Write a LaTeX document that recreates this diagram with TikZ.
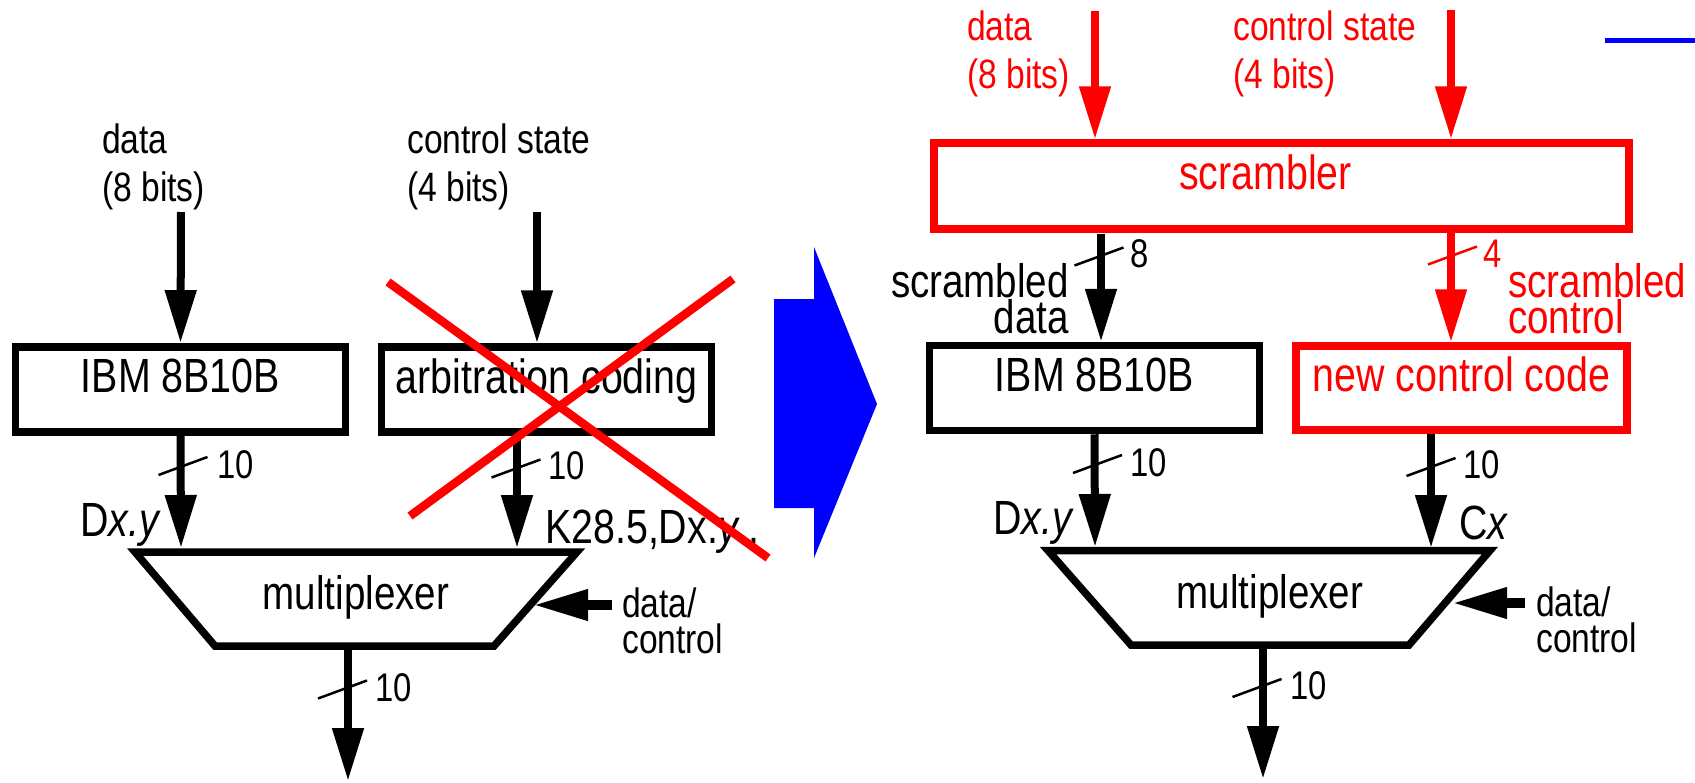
\documentclass[tikz,border=0pt]{standalone}
\usepackage{fontspec}
\setmainfont{Liberation Sans}[FakeStretch=0.82]
\usetikzlibrary{arrows.meta}

\begin{document}
\begin{tikzpicture}[x=1pt, y=-1pt,
    box/.style={draw, line width=7.5pt, minimum width=330pt, minimum height=85pt, inner sep=0pt,
      font=\fontsize{48}{56}\selectfont, text height=20pt, text depth=13pt},
    bus/.style={line width=8pt, -{Triangle[length=53pt, width=30pt]}},
    sel/.style={line width=10pt, -{Triangle[length=55pt, width=29pt]}},
    mux/.style={line width=7.5pt, line join=miter},
    slash/.style={line width=2.5pt},
    cross/.style={red, line width=8.5pt},
    inlbl/.style={font=\fontsize{41}{48}\selectfont, align=left, anchor=base west, inner sep=0pt},
    sclbl/.style={font=\fontsize{47}{36}\selectfont, inner sep=0pt},
    num/.style={font=\fontsize{40}{40}\selectfont, anchor=base west, inner sep=0pt},
    sig/.style={font=\fontsize{48}{48}\selectfont, anchor=base west, inner sep=0pt},
    ctl/.style={font=\fontsize{41}{36}\selectfont, align=left, anchor=base west, inner sep=0pt}]
\useasboundingbox (0,0) rectangle (1695,782);

\node[inlbl] (datL) at (102,201) {data\\(8 bits)};
\node[inlbl] (csL) at (407,201) {control state\\(4 bits)};
\node[box] (ibmL) at (180.5,389.3) {IBM 8B10B};
\node[box] (arbL) at (546.5,389.5) {arbitration coding};
\coordinate (muxL1) at (135,552); \coordinate (muxL2) at (577,552);
\coordinate (muxL3) at (494,646); \coordinate (muxL4) at (215,646);
\draw[mux] (muxL1) -- (muxL2) -- (muxL3) -- (muxL4) -- cycle;
\node[font=\fontsize{47}{47}\selectfont, anchor=base, inner sep=0pt] (mpxL) at (356,609) {multiplexer};
\coordinate (inDL) at (181,212); \coordinate (inCL) at (537,212);
\coordinate (muxLa) at (181,548); \coordinate (muxLb) at (517,548);
\coordinate (outL) at (348,781); \coordinate (selL) at (612,605); \coordinate (selLt) at (533,605);
\draw[bus] (inDL) -- (ibmL.north);
\draw[bus] (inCL) -- (inCL |- arbL.north);
\draw[bus] (ibmL.south) -- (muxLa);
\draw[bus] (muxLb |- arbL.south) -- (muxLb);
\draw[bus] (outL |- muxL4) -- (outL);
\draw[sel] (selL) -- (selLt);
\node[sig] (dxyL) at (80,536) {D\textit{x.y}};
\node[sig] (kL) at (545,543) {K28.5,Dx.\textit{y}..};
\node[ctl] (dcL) at (622,653) {data/\\control};

\node[inlbl, red] (datR) at (967,88) {data\\(8 bits)};
\node[inlbl, red] (csR) at (1233,88) {control state\\(4 bits)};
\node[box, red, minimum width=695pt, minimum height=86pt] (scr) at (1281.5,186) {scrambler\hspace*{32pt}};
\node[box] (ibmR) at (1094.5,388) {IBM 8B10B};
\node[box, red, minimum width=331pt, minimum height=84pt] (ncc) at (1461.5,388) {new control code};
\coordinate (muxR1) at (1048,550.5); \coordinate (muxR2) at (1490,550.5);
\coordinate (muxR3) at (1409,645); \coordinate (muxR4) at (1131,645);
\draw[mux] (muxR1) -- (muxR2) -- (muxR3) -- (muxR4) -- cycle;
\node[font=\fontsize{47}{47}\selectfont, anchor=base, inner sep=0pt] (mpxR) at (1270,608) {multiplexer};
\coordinate (inDR) at (1095,11); \coordinate (inCR) at (1451,10);
\coordinate (sdR) at (1101,233.5);
\coordinate (muxRa) at (1095,547); \coordinate (muxRb) at (1431,548);
\coordinate (outR) at (1263,779); \coordinate (selR) at (1525,603); \coordinate (selRt) at (1452,603);
\draw[bus, red] (inDR) -- (inDR |- scr.north);
\draw[bus, red] (inCR) -- (inCR |- scr.north);
\draw[bus] (sdR) -- (sdR |- ibmR.north);
\draw[bus, red] (inCR |- scr.south) -- (inCR |- ncc.north);
\draw[bus] (ibmR.south) -- (muxRa);
\draw[bus] (muxRb |- ncc.south) -- (muxRb);
\draw[bus] (outR |- muxR4) -- (outR);
\draw[sel] (selR) -- (selRt);
\node[sclbl, align=right, anchor=base east] (sdat) at (1069,333) {scrambled\\data};
\node[sclbl, align=left, anchor=base west, red] (sctl) at (1508,333) {scrambled\\control};
\node[sig] (dxyR) at (993,534) {D\textit{x.y}};
\node[sig] (cxR) at (1459,539) {C\textit{x}};
\node[ctl] (dcR) at (1536,652) {data/\\control};

\foreach \cx/\cy/\lx/\ly/\t/\c/\n in {183/466/217/478/10/black/1, 516/468.5/548/479/10/black/2,
    342.5/689.5/375/701/10/black/3, 1099/256.5/1130/267/8/black/4, 1452.5/255.5/1483/267/4/red/5,
    1097.5/464/1130/476/10/black/6, 1431/467/1463/478/10/black/7, 1257/688/1290/699/10/black/8}
{
  \draw[slash, \c] (\cx-24.5,\cy+9) -- (\cx+24.5,\cy-9);
  \node[num, text=\c] (w\n) at (\lx,\ly) {\t};
}

\draw[cross] (388,282) -- (768,558);
\draw[cross] (733,279) -- (410,516);
\fill[blue] (774,299) -- (814,299) -- (814,247) -- (877,404) -- (814,558) -- (814,508) -- (774,508) -- cycle;
\draw[blue, line width=5pt] (1605,40) -- (1695,40);
\end{tikzpicture}
\end{document}
